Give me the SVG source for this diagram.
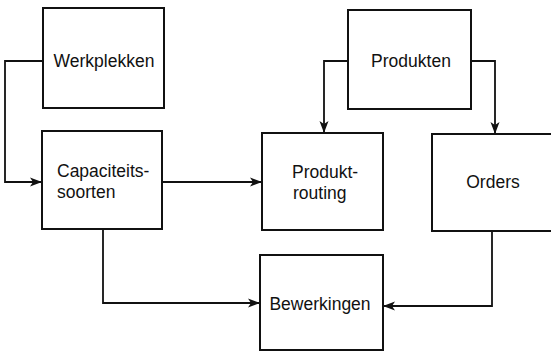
<svg xmlns="http://www.w3.org/2000/svg" width="551" height="353" viewBox="0 0 551 353">
  <style>
    .box { fill: #ffffff; stroke: #111111; stroke-width: 2; }
    .lbl { font-family: "Liberation Sans", Arial, sans-serif; font-size: 17.5px; fill: #111111; }
    .mid { text-anchor: middle; }
    .link { fill: none; stroke: #111111; stroke-width: 1.8; marker-end: url(#head); }
  </style>
  <defs>
    <marker id="head" viewBox="0 0 12 10" refX="11" refY="5" markerWidth="12" markerHeight="10" markerUnits="userSpaceOnUse" orient="auto">
      <path d="M0,0.5 L12,5 L0,9.5 L3,5 Z" fill="#111111"/>
    </marker>
  </defs>

  <g id="connectors">
    <path class="link" d="M43,61 H5 V182 H41"/>
    <path class="link" d="M162,182 H261"/>
    <path class="link" d="M348,61 H324 V132"/>
    <path class="link" d="M471,61 H495 V133"/>
    <path class="link" d="M103,229 V303 H259"/>
    <path class="link" d="M492,231 V306 H384"/>
  </g>

  <g id="werkplekken">
    <rect class="box" x="43" y="8" width="121" height="100"/>
    <text class="lbl mid" x="104" y="67">Werkplekken</text>
  </g>

  <g id="capaciteitssoorten">
    <rect class="box" x="42" y="131" width="120" height="98"/>
    <text class="lbl" x="57" y="177">Capaciteits-</text>
    <text class="lbl" x="57" y="198">soorten</text>
  </g>

  <g id="produkten">
    <rect class="box" x="348" y="10" width="123" height="99"/>
    <text class="lbl mid" x="411" y="67">Produkten</text>
  </g>

  <g id="produktrouting">
    <rect class="box" x="262" y="133" width="121" height="97"/>
    <text class="lbl" x="292" y="178">Produkt-</text>
    <text class="lbl" x="293" y="199">routing</text>
  </g>

  <g id="orders">
    <rect class="box" x="432" y="134" width="130" height="97"/>
    <text class="lbl mid" x="493" y="188">Orders</text>
  </g>

  <g id="bewerkingen">
    <rect class="box" x="260" y="255" width="123" height="95"/>
    <text class="lbl mid" x="320" y="310">Bewerkingen</text>
  </g>
</svg>
